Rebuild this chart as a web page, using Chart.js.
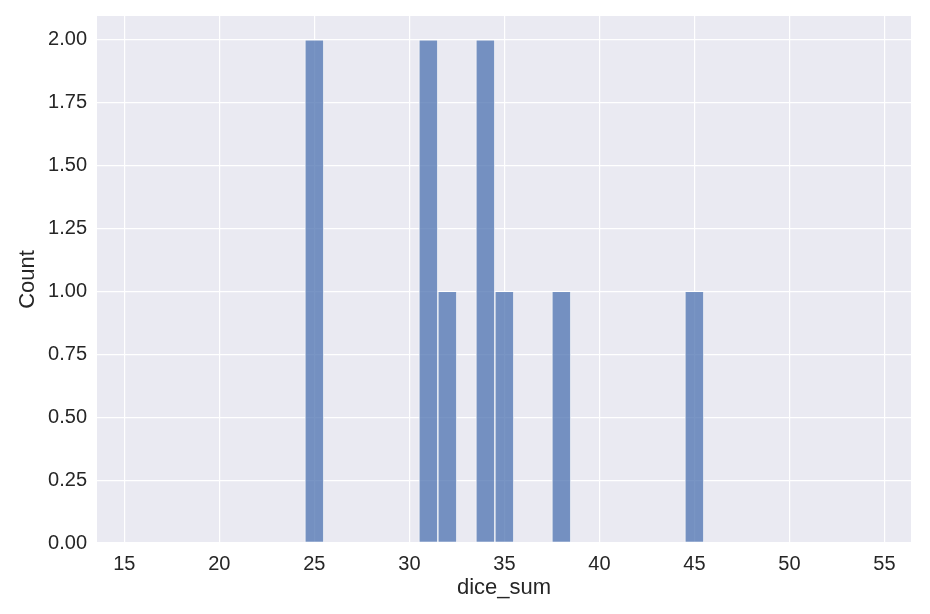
<!DOCTYPE html>
<html>
	<head>
		<title>dice_sum</title>
		<script src="https://cdn.jsdelivr.net/npm/chart.js@4.4.0/dist/chart.umd.min.js"></script>
		<style>
			html, body { margin: 0; padding: 0; background: #ffffff; }
			#wrap { width: 930px; height: 614px; }
		</style>
	</head>
	<body>
		<div id="wrap"><canvas id="myChart" width="930" height="614"></canvas></div>
		<script>
			// histogram data (bin centres and counts)
			const bins = [25, 31, 32, 34, 35, 38, 45];
			const counts = [2, 2, 1, 2, 1, 1, 1];
			const xTicks = [15, 20, 25, 30, 35, 40, 45, 50, 55];
			const yTicks = [0, 0.25, 0.5, 0.75, 1, 1.25, 1.5, 1.75, 2];

			const font = 'Arial, "Liberation Sans", sans-serif';
			const textColor = '#262626';

			// grey plot background like seaborn darkgrid
			const plotBg = {
				id: 'plotBg',
				beforeDraw(chart) {
					const a = chart.chartArea;
					const ctx = chart.ctx;
					ctx.save();
					ctx.fillStyle = '#eaeaf2';
					ctx.fillRect(a.left, a.top, a.right - a.left, a.bottom - a.top);
					ctx.restore();
				}
			};

			var chart = new Chart(document.getElementById('myChart').getContext('2d'), {
				type: 'bar',
				plugins: [plotBg],
				data: {
					datasets: [{
						label: 'Count',
						data: bins.map((b, i) => ({ x: b, y: counts[i] })),
						backgroundColor: 'rgba(76, 114, 176, 0.75)',
						borderColor: 'rgba(255, 255, 255, 0.7)',
						borderWidth: 1,
						borderSkipped: false,
						barPercentage: 1,
						categoryPercentage: 1
					}]
				},
				options: {
					responsive: false,
					animation: false,
					layout: { padding: { left: 0, right: 19, top: 16, bottom: 0 } },
					plugins: {
						legend: { display: false },
						tooltip: { enabled: false }
					},
					scales: {
						x: {
							type: 'linear',
							offset: false,
							min: 13.56,
							max: 56.4,
							afterBuildTicks: (s) => { s.ticks = xTicks.map(v => ({ value: v })); },
							afterFit: (s) => { s.height = 71; s.paddingLeft = 0; s.paddingRight = 0; },
							grid: { color: '#ffffff', lineWidth: 1.2, drawTicks: false, offset: false },
							border: { display: false },
							ticks: {
								padding: 9,
								color: textColor,
								font: { family: font, size: 20 }
							},
							title: {
								display: true,
								text: 'dice_sum',
								color: textColor,
								font: { family: font, size: 22 },
								padding: { top: 2, bottom: 13 }
							}
						},
						y: {
							min: 0,
							max: 2.095,
							afterBuildTicks: (s) => { s.ticks = yTicks.map(v => ({ value: v })); },
							afterFit: (s) => { s.width = 97; s.paddingTop = 0; s.paddingBottom = 0; },
							grid: { color: '#ffffff', lineWidth: 1.2, drawTicks: false },
							border: { display: false },
							ticks: {
								padding: 10,
								color: textColor,
								font: { family: font, size: 20 },
								callback: (v) => Number(v).toFixed(2)
							},
							title: {
								display: true,
								text: 'Count',
								color: textColor,
								font: { family: font, size: 22 },
								padding: { top: 15, bottom: 4 }
							}
						}
					}
				}
			});
		</script>
	</body>
</html>
